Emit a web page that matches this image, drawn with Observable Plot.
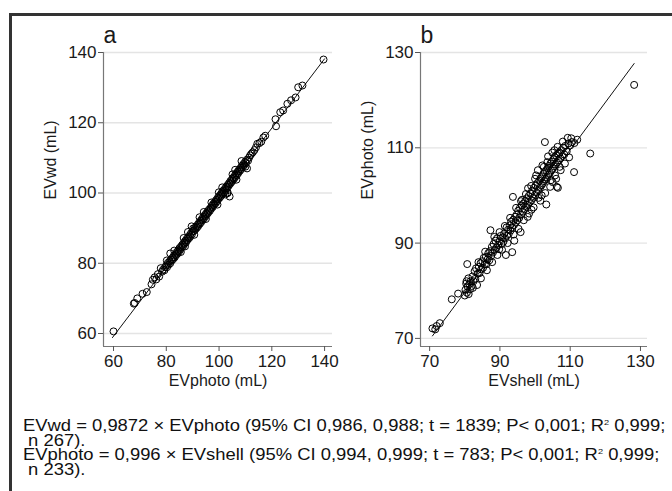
<!DOCTYPE html>
<html><head><meta charset="utf-8">
<script src="https://cdn.jsdelivr.net/npm/d3@7"></script>
<script src="https://cdn.jsdelivr.net/npm/@observablehq/plot@0.6"></script>
<style>
html,body{margin:0;padding:0;background:#fff;}
body{width:672px;height:491px;position:relative;overflow:hidden;font-family:"Liberation Sans",Arial,sans-serif;}
#frame{position:absolute;left:9px;top:13px;width:700px;height:500px;border-top:3px solid #333;border-left:3px solid #333;}
#pa{position:absolute;left:12px;top:20px;}
#pb{position:absolute;left:342px;top:20px;}
#cap{position:absolute;left:23px;top:419px;font-size:16px;line-height:14.7px;color:#111;white-space:pre;transform:scaleX(1.15);transform-origin:0 0;}
#cap sup{font-size:8px;line-height:0;vertical-align:6px;}
</style></head><body>
<div id="frame"></div><div id="pa"></div><div id="pb"></div><div id="cap"></div>
<script>
// ---- Panel a: EVphoto (x) vs EVwd (y)
const ptsA = [
[60.0,60.6],[67.7,68.5],[68.0,68.7],[69.0,70.0],[71.0,71.3],[72.6,71.8],[74.4,74.0],[74.9,75.3],[75.6,76.0],[76.2,75.4],[76.8,76.9],[77.3,76.2],[77.9,78.6],[78.4,77.6],[78.8,78.2],[79.3,78.0],[79.6,78.9],[80.0,79.4],[80.2,80.8],[80.3,78.9],[80.6,80.1],[80.9,79.6],[81.2,80.5],[81.5,80.0],[81.5,82.8],[81.8,81.1],[82.1,80.8],[82.4,81.6],[82.6,81.2],[82.9,82.2],[83.0,83.6],[83.2,81.7],[83.5,82.6],[83.7,82.3],[84.0,83.2],[84.2,82.7],[84.5,83.6],[84.8,83.3],[85.0,84.3],[85.3,83.9],[85.5,83.2],[85.6,84.8],[85.9,84.5],[86.1,85.3],[86.4,84.9],[86.6,87.2],[86.7,85.9],[87.0,85.6],[87.1,84.8],[87.2,86.4],[87.5,86.0],[87.8,87.0],[88.0,86.6],[88.2,88.9],[88.3,87.4],[88.6,87.1],[88.9,88.0],[89.1,87.6],[89.4,88.6],[89.6,90.5],[89.7,88.2],[90.0,89.1],[90.2,89.9],[90.5,89.2],[90.6,88.1],[90.8,90.0],[91.0,89.6],[91.3,90.4],[91.6,90.1],[91.9,91.0],[92.1,90.6],[92.4,91.5],[92.6,93.1],[92.7,91.2],[93.0,92.1],[93.2,91.7],[93.5,92.6],[93.8,92.3],[94.0,93.2],[94.2,94.6],[94.3,92.8],[94.6,93.7],[94.9,93.4],[95.0,92.6],[95.1,94.2],[95.4,93.9],[95.7,94.8],[95.9,94.4],[96.2,95.3],[96.5,94.9],[96.8,95.8],[97.0,95.5],[97.1,97.3],[97.3,96.4],[97.6,96.0],[97.8,96.9],[98.1,96.6],[98.4,97.5],[98.7,97.1],[98.9,98.0],[99.2,97.6],[99.4,96.7],[99.5,98.6],[99.7,98.2],[99.9,100.2],[100.0,99.1],[100.3,98.7],[100.6,99.6],[100.8,99.2],[101.1,100.2],[101.2,101.6],[101.4,99.8],[101.6,100.7],[101.9,100.3],[102.2,101.2],[102.4,99.6],[102.5,100.9],[102.7,101.8],[103.0,101.4],[103.1,99.9],[103.3,100.1],[103.3,102.3],[103.5,101.9],[103.8,102.8],[104.0,99.0],[104.1,102.5],[104.3,103.4],[104.6,103.0],[104.9,103.9],[105.1,105.3],[105.2,103.5],[105.4,104.4],[105.7,104.1],[106.0,105.0],[106.1,106.6],[106.2,104.6],[106.5,105.6],[106.6,103.8],[106.8,105.2],[107.1,106.1],[107.3,105.7],[107.6,106.7],[107.9,106.3],[108.2,107.2],[108.4,106.8],[108.5,109.1],[108.7,107.8],[109.0,107.4],[109.3,108.3],[109.6,108.0],[109.9,108.9],[110.0,107.5],[110.2,108.5],[110.6,107.0],[110.6,109.5],[111.0,109.2],[111.4,110.1],[111.8,110.7],[112.3,111.2],[112.8,111.6],[113.4,112.2],[114.0,113.0],[114.5,114.0],[115.3,114.2],[116.0,114.6],[116.8,115.8],[117.5,116.3],[121.4,121.0],[121.6,119.0],[123.2,123.0],[124.3,123.5],[125.9,125.4],[127.3,126.4],[129.0,127.2],[130.0,130.1],[131.6,130.6],[139.6,138.0]
];
const slopeA = 0.9872;
const fitRangeA = [59.6, 140];
const ticksA = [60, 80, 100, 120, 140];
const xDomA = [56.2, 143];
const yDomA = [56.3, 140];

// ---- Panel b: EVshell (x) vs EVphoto (y)
const ptsB = [
[70.8,72.1],[71.6,71.9],[72.0,72.6],[72.9,73.2],[76.3,78.2],[78.1,79.4],[80.0,79.0],[80.2,80.2],[80.4,81.5],[80.5,82.0],[80.6,79.6],[80.7,85.6],[80.8,80.9],[81.0,82.6],[81.1,79.3],[81.3,81.4],[81.5,80.3],[81.7,82.0],[82.0,81.0],[82.2,83.0],[82.3,80.6],[82.5,82.0],[82.8,84.1],[83.0,82.5],[83.2,84.7],[83.5,81.2],[83.7,83.6],[83.9,86.0],[84.0,85.0],[84.2,83.7],[84.5,85.8],[84.6,82.6],[84.7,84.5],[85.0,86.2],[85.2,84.8],[85.4,86.9],[85.7,85.5],[85.8,88.2],[86.0,87.1],[86.2,85.6],[86.3,84.3],[86.5,86.6],[86.7,87.9],[87.0,86.4],[87.2,88.3],[87.3,92.7],[87.5,87.3],[87.7,89.2],[87.8,86.0],[88.0,88.0],[88.2,89.8],[88.4,91.3],[88.5,88.6],[88.7,90.5],[89.0,89.0],[89.2,91.0],[89.3,87.5],[89.5,89.6],[89.8,88.7],[89.9,92.3],[90.0,90.4],[90.2,91.5],[90.5,89.8],[90.6,88.6],[90.7,91.2],[91.0,90.3],[91.2,92.0],[91.4,93.6],[91.5,91.0],[91.7,87.5],[91.9,93.3],[92.0,91.6],[92.2,90.0],[92.3,92.8],[92.5,91.9],[92.8,93.7],[92.9,95.3],[93.0,92.6],[93.2,94.5],[93.5,88.1],[93.5,93.3],[93.7,99.7],[93.8,94.9],[93.9,91.8],[94.0,93.8],[94.1,90.5],[94.3,95.5],[94.5,94.3],[94.6,97.4],[94.8,96.0],[95.0,94.8],[95.2,96.8],[95.3,93.0],[95.5,95.3],[95.7,97.4],[95.9,92.3],[96.0,96.0],[96.0,98.8],[96.2,97.9],[96.3,99.1],[96.5,96.6],[96.7,98.3],[96.8,94.8],[97.0,97.1],[97.2,98.8],[97.4,100.3],[97.5,97.6],[97.7,99.4],[97.9,95.5],[98.0,98.0],[98.0,101.5],[98.2,99.9],[98.3,96.2],[98.5,98.6],[98.7,100.4],[98.9,102.0],[99.0,97.0],[99.0,99.0],[99.2,101.0],[99.5,99.5],[99.6,97.5],[99.7,101.6],[100.0,100.1],[100.0,103.5],[100.2,102.1],[100.3,104.2],[100.5,100.6],[100.7,102.6],[100.8,105.3],[100.9,101.1],[101.0,99.5],[101.2,103.1],[101.4,101.6],[101.5,98.9],[101.6,103.6],[101.8,102.1],[101.9,100.0],[102.0,104.0],[102.1,106.3],[102.2,102.5],[102.4,104.5],[102.5,106.0],[102.6,103.0],[102.8,111.2],[102.8,104.9],[102.9,100.5],[103.0,103.4],[103.2,98.1],[103.2,105.3],[103.4,103.8],[103.5,107.0],[103.6,105.8],[103.7,108.2],[103.8,104.3],[104.0,106.2],[104.2,104.7],[104.3,101.8],[104.4,106.7],[104.5,103.2],[104.6,105.2],[104.8,107.1],[104.9,109.0],[105.0,102.8],[105.0,105.6],[105.2,107.6],[105.4,106.1],[105.5,109.5],[105.6,108.0],[105.7,104.2],[105.8,106.5],[106.0,103.5],[106.0,108.4],[106.2,101.8],[106.3,106.9],[106.4,110.2],[106.5,101.6],[106.5,108.8],[106.7,107.4],[107.0,106.0],[107.0,109.0],[107.2,107.8],[107.3,105.3],[107.5,109.5],[107.8,108.3],[107.9,111.3],[108.0,110.0],[108.3,108.6],[108.5,106.7],[108.6,110.4],[109.0,109.2],[109.3,112.1],[109.5,110.9],[109.7,108.0],[110.0,110.5],[110.3,112.0],[110.5,111.2],[111.1,104.9],[111.2,111.0],[112.0,111.7],[115.7,108.8],[128.2,123.2]
];
const slopeB = 0.996;
const fitRangeB = [70.8, 128.2];
const ticksB = [70, 90, 110, 130];
const xDomB = [67.4, 132];
const yDomB = [68.3, 130];

// ---- Texts
const panelLetters = ["a", "b"];
const xLabels = ["EVphoto (mL)", "EVshell (mL)"];
const yLabels = ["EVwd (mL)", "EVphoto (mL)"];
const captionLines = [
  "EVwd = 0,9872 × EVphoto (95% CI 0,986, 0,988; t = 1839; P< 0,001; R² 0,999;",
  " n 267).",
  "EVphoto = 0,996 × EVshell (95% CI 0,994, 0,999; t = 783; P< 0,001; R² 0,999;",
  " n 233)."
];

function panel(o) {
  const fit = o.range.map(x => ({x, y: o.slope * x}));
  return Plot.plot({
    width: o.w, height: 380,
    marginLeft: o.ml, marginRight: o.mr, marginTop: 32, marginBottom: 54,
    style: {fontFamily: "Liberation Sans, Arial, sans-serif", fontSize: "17px", color: "#1a1a1a", background: "transparent", overflow: "visible"},
    x: {domain: o.xd},
    y: {domain: o.yd},
    marks: [
      Plot.gridY({ticks: o.ticks, stroke: "#e4e4e4", strokeOpacity: 1, strokeWidth: 1.3}),
      Plot.ruleX([o.xd[0]], {stroke: "#777", strokeWidth: 1.2}),
      Plot.ruleY([o.yd[0]], {stroke: "#777", strokeWidth: 1.2}),
      Plot.axisY({ticks: o.ticks, tickSize: 5, tickPadding: 2, label: null, fontSize: 17, stroke: "#555"}),
      Plot.axisX({ticks: o.ticks, tickSize: 5, tickPadding: 3, label: null, fontSize: 17, stroke: "#555"}),
      Plot.line(fit, {x: "x", y: "y", stroke: "#111", strokeWidth: 1}),
      Plot.dot(o.pts, {x: d => d[0], y: d => d[1], r: 3.5, stroke: "#000", strokeWidth: 1, fill: "none"}),
      Plot.text([o.ylab], {frameAnchor: "left", rotate: -90, dx: -53, fontSize: 16}),
      Plot.text([o.xlab], {frameAnchor: "bottom", dy: 39, fontSize: 16}),
      Plot.text([o.letter], {frameAnchor: "top-left", textAnchor: "start", dy: -26, fontSize: 23})
    ]
  });
}

document.getElementById("pa").append(panel({
  w: 330, ml: 91, mr: 10, pts: ptsA, slope: slopeA, range: fitRangeA, ticks: ticksA,
  xd: xDomA, yd: yDomA, xlab: xLabels[0], ylab: yLabels[0], letter: panelLetters[0]
}));
document.getElementById("pb").append(panel({
  w: 320, ml: 78, mr: 15, pts: ptsB, slope: slopeB, range: fitRangeB, ticks: ticksB,
  xd: xDomB, yd: yDomB, xlab: xLabels[1], ylab: yLabels[1], letter: panelLetters[1]
}));

document.getElementById("cap").innerHTML = captionLines
  .map(s => s.replace("R²", "R<sup>2</sup>"))
  .join("\n");
</script>
</body></html>
